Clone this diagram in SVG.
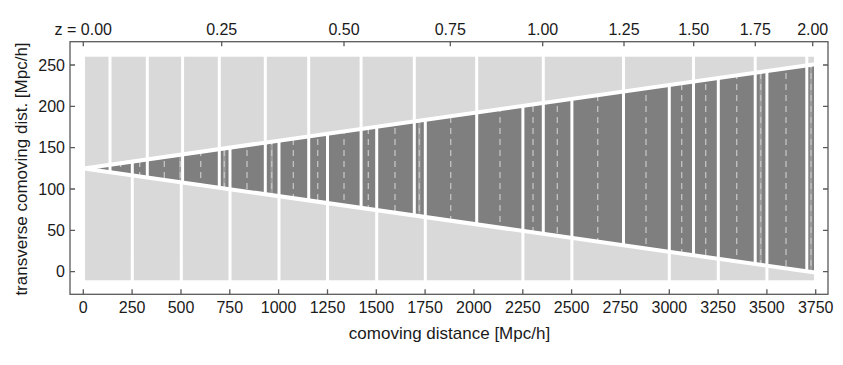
<svg xmlns="http://www.w3.org/2000/svg" width="843" height="365" viewBox="0 0 843 365">
<defs>
<style>
.bg{fill:#d9d9d9}
.dark{fill:#7f7f7f}
.wl{stroke:#ffffff;stroke-width:3;fill:none}
.edge{stroke:#ffffff;stroke-width:4;fill:none}
.dash{stroke:#c4c4c4;stroke-width:1.3;stroke-dasharray:6 5;fill:none}
.strip{stroke:#9c9c9c;stroke-width:2.5;fill:none}
.ax{stroke:#5a5a5a;stroke-width:1.3;fill:none}
text{font-family:"Liberation Sans",Arial,Helvetica,sans-serif;fill:#1a1a1a}
.tl{font-size:16px}
.tt{font-size:17px}
.mid{text-anchor:middle}
.end{text-anchor:end}
</style>
<clipPath id="aboveLo"><polygon points="0,0 843,0 843,276.6 85,168.4 0,168.4"/></clipPath>
<clipPath id="belowUp"><polygon points="0,365 843,365 843,60.2 85,168.4 0,168.4"/></clipPath>
<clipPath id="belowLo"><polygon points="0,365 843,365 843,276.6 85,168.4 0,168.4"/></clipPath>
<clipPath id="cone"><polygon points="85,168.4 814,64.3 814,272.5"/></clipPath>
</defs>

<g id="background">
<rect class="bg" x="85" y="56.7" width="729" height="223.6"/>
</g>

<g id="lightcone">
<polygon class="dark" points="85,168.4 814,64.3 814,272.5"/>
<g clip-path="url(#cone)">
<path class="strip" d="M180.3 40V290M224.3 40V290M271.7 40V290M419.3 40V290M760.7 40V290M811 40V290"/>
<path class="dash" d="M96.7 40V290M120.7 40V290M139.7 40V290M164.3 40V290M180.3 40V290M200.7 40V290M224.3 40V290M247 40V290M271.7 40V290M293.3 40V290M317.7 40V290M344 40V290M368.3 40V290M395 40V290M419.3 40V290M450.7 40V290M500 40V290M533 40V290M557.3 40V290M597.7 40V290M646 40V290M681.7 40V290M705.7 40V290M736.7 40V290M760.7 40V290M786 40V290M811 40V290"/>
</g>
</g>

<g id="shell-boundaries" clip-path="url(#aboveLo)">
<path class="wl" d="M110 50V290M147.3 50V290M182.6 50V290M219.3 50V290M265.3 50V290M308.7 50V290M361.1 50V290M414.3 50V290M476.7 50V290M543.3 50V290M623.5 50V290M693.5 50V290M755.2 50V290M806.8 50V290"/>
</g>
<g id="box-boundaries" clip-path="url(#belowUp)">
<path class="wl" d="M132.3 50V290M230 50V290M279 50V290M327.5 50V290M376.7 50V290M425.3 50V290M522.9 50V290M571.9 50V290M669.3 50V290M718.3 50V290M766.9 50V290"/>
</g>
<g id="box-boundary-500" clip-path="url(#belowLo)">
<path class="wl" d="M181.3 50V290"/>
</g>

<g id="cone-edges">
<path class="edge" d="M84 168.4L815 64.2M84 168.4L815 272.6"/>
</g>

<g id="axes">
<rect class="ax" x="70" y="41.7" width="758" height="252.6"/>
<path class="ax" d="M83.3 294.3v-5M132.1 294.3v-5M181 294.3v-5M229.8 294.3v-5M278.6 294.3v-5M327.5 294.3v-5M376.3 294.3v-5M425.1 294.3v-5M473.9 294.3v-5M522.8 294.3v-5M571.6 294.3v-5M620.4 294.3v-5M669.3 294.3v-5M718.1 294.3v-5M766.9 294.3v-5M815.7 294.3v-5"/>
<path class="ax" d="M83.3 41.7v4.5M221.7 41.7v4.5M344 41.7v4.5M450.3 41.7v4.5M542.7 41.7v4.5M624 41.7v4.5M693.7 41.7v4.5M755.3 41.7v4.5M812.7 41.7v4.5"/>
<path class="ax" d="M70 271.7h5M70 230.4h5M70 189h5M70 147.7h5M70 106.4h5M70 65h5M828 271.7h-5M828 230.4h-5M828 189h-5M828 147.7h-5M828 106.4h-5M828 65h-5"/>
</g>

<g id="bottom-labels" class="tl mid">
<text x="83.3" y="313.3">0</text>
<text x="132.1" y="313.3">250</text>
<text x="181" y="313.3">500</text>
<text x="229.8" y="313.3">750</text>
<text x="278.6" y="313.3">1000</text>
<text x="327.5" y="313.3">1250</text>
<text x="376.3" y="313.3">1500</text>
<text x="425.1" y="313.3">1750</text>
<text x="473.9" y="313.3">2000</text>
<text x="522.8" y="313.3">2250</text>
<text x="571.6" y="313.3">2500</text>
<text x="620.4" y="313.3">2750</text>
<text x="669.3" y="313.3">3000</text>
<text x="718.1" y="313.3">3250</text>
<text x="766.9" y="313.3">3500</text>
<text x="815.7" y="313.3">3750</text>
</g>

<g id="left-labels" class="tl end">
<text x="65" y="277.4">0</text>
<text x="65" y="236.1">50</text>
<text x="65" y="194.7">100</text>
<text x="65" y="153.4">150</text>
<text x="65" y="112.1">200</text>
<text x="65" y="70.7">250</text>
</g>

<g id="top-labels" class="tl mid">
<text x="83.3" y="35">z = 0.00</text>
<text x="221.7" y="35">0.25</text>
<text x="344" y="35">0.50</text>
<text x="450.3" y="35">0.75</text>
<text x="542.7" y="35">1.00</text>
<text x="624" y="35">1.25</text>
<text x="693.7" y="35">1.50</text>
<text x="755.3" y="35">1.75</text>
<text x="812.7" y="35">2.00</text>
</g>

<g id="axis-titles" class="tt mid">
<text x="449.5" y="338.5">comoving distance [Mpc/h]</text>
<text transform="translate(26.7,169) rotate(-90)" x="0" y="0">transverse comoving dist. [Mpc/h]</text>
</g>
</svg>
